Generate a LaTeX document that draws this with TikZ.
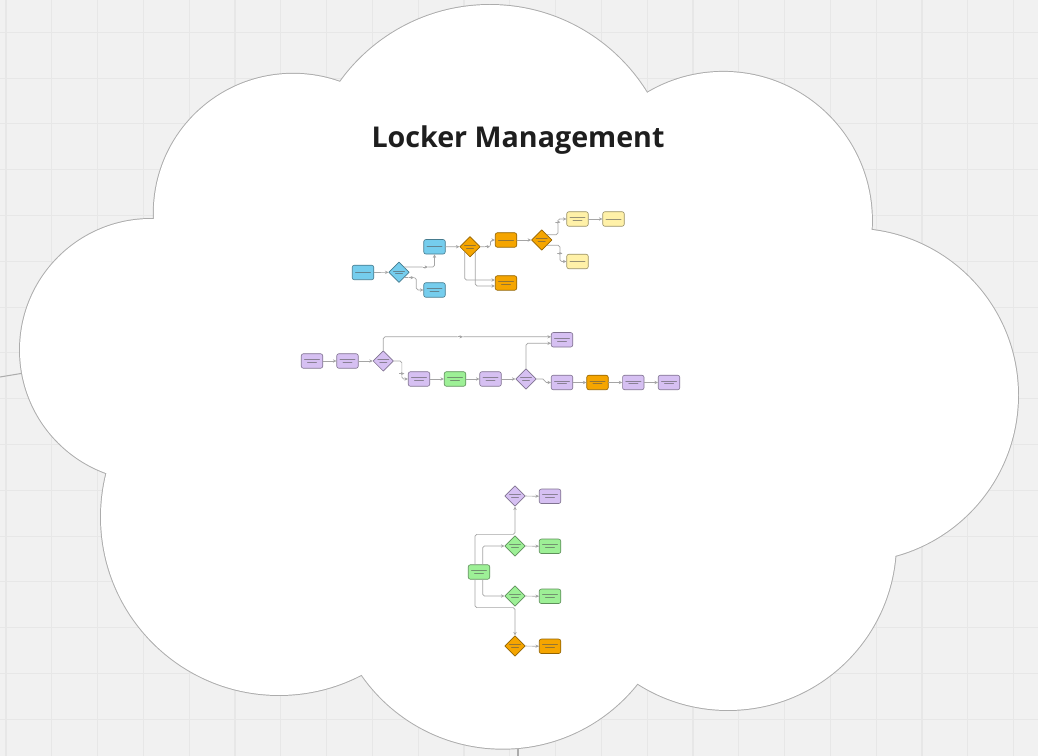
\documentclass[tikz,border=0pt]{standalone}
\usepackage{fontspec}
\newfontfamily\titlefont{Open Sans}
\usetikzlibrary{shapes.geometric,arrows.meta}

\definecolor{bggray}{RGB}{241,241,241}
\definecolor{gridgray}{RGB}{231,231,231}
\definecolor{cloudgray}{RGB}{172,172,172}
\definecolor{linkgray}{RGB}{165,165,165}
\definecolor{titleblack}{RGB}{30,30,30}
\definecolor{lkblue}{RGB}{117,205,237}
\definecolor{lkorange}{RGB}{245,165,0}
\definecolor{lkyellow}{RGB}{255,241,168}
\definecolor{lkpurple}{RGB}{214,192,242}
\definecolor{lkgreen}{RGB}{157,240,150}

\tikzset{
  gridline/.style={draw=gridgray, line width=0.6pt},
  box/.style={rectangle, rounded corners=1.2pt, minimum width=0.43cm, minimum height=0.29cm,
    inner sep=0pt, line width=0.35pt, fill=#1, draw=#1!60!black,
    path picture={\draw[#1!50!black!80, line width=0.55pt]
      ([xshift=-0.15cm,yshift=0.027cm]path picture bounding box.center) -- ++(0.3cm,0)
      ([xshift=-0.09cm,yshift=-0.027cm]path picture bounding box.center) -- ++(0.18cm,0);}},
  boxone/.style={box=#1,
    path picture={\draw[#1!50!black!80, line width=0.55pt]
      ([xshift=-0.15cm]path picture bounding box.center) -- ++(0.3cm,0);}},
  dia/.style={diamond, aspect=1, minimum width=0.41cm, minimum height=0.41cm,
    inner sep=0pt, line width=0.35pt, fill=#1, draw=#1!60!black,
    path picture={\draw[#1!50!black!80, line width=0.5pt]
      ([xshift=-0.11cm,yshift=0.027cm]path picture bounding box.center) -- ++(0.22cm,0)
      ([xshift=-0.07cm,yshift=-0.027cm]path picture bounding box.center) -- ++(0.14cm,0);}},
  lbl/.style={fill=white, inner sep=0pt, minimum width=0.13cm, minimum height=0.06cm,
    path picture={\draw[linkgray, line width=0.4pt]
      ([xshift=-0.05cm]path picture bounding box.center) -- ++(0.1cm,0);}},
  link/.style={draw=linkgray, line width=0.4pt, rounded corners=1pt,
    -{Stealth[length=2pt,width=1.9pt]}},
  title/.style={font=\titlefont\bfseries\fontsize{16.3}{19}\selectfont, text=titleblack,
    anchor=base, inner sep=0pt}
}

\begin{document}
\begin{tikzpicture}[x=0.02cm, y=-0.02cm, line join=round, line cap=round]
\useasboundingbox (0,0) rectangle (1038,756);
% board
\fill[bggray] (0,0) rectangle (1038,756);
\foreach \i in {0,...,22} \draw[gridline] ({6+45.8*\i},0) -- ++(0,756);
\foreach \j in {0,...,15} \draw[gridline] (0,{32.3+45.8*\j}) -- ++(1038,0);
\draw[cloudgray, line width=0.6pt] (0,377) -- (24,373);
\draw[cloudgray, line width=0.6pt] (518,744) -- (518,756);

% cloud: lobes as circles, outline left half visible
\foreach \cx/\cy/\r in {293.1/213.1/139.3, 489.9/189.4/184.4, 723.3/220.5/148.6,
    851.5/395.2/166.5, 728/542/168, 502.8/576.9/171.8, 279/517/178, 151/350/131}
  \draw[cloudgray, line width=1.1pt] (\cx,\cy) circle[radius=\r];
\fill[white] (158,218) -- (340,86) -- (647,98) -- (868,232) -- (886,555)
  -- (637,679) -- (362,670) -- (114,468) -- cycle;
\foreach \cx/\cy/\r in {293.1/213.1/139.3, 489.9/189.4/184.4, 723.3/220.5/148.6,
    851.5/395.2/166.5, 728/542/168, 502.8/576.9/171.8, 279/517/178, 151/350/131}
  \fill[white] (\cx,\cy) circle[radius=\r];

\node[title] (ttl) at (518,148) {Locker Management};

% first flow
\node[boxone=lkblue] (b1) at (363,272.5) {};
\node[dia=lkblue] (d1) at (399,272.3) {};
\node[boxone=lkblue] (b2) at (434.5,246.8) {};
\node[box=lkblue] (b3) at (434.5,290) {};
\node[dia=lkorange] (d2) at (470,246.7) {};
\node[boxone=lkorange] (o1) at (506,240) {};
\node[box=lkorange] (o2) at (506,283) {};
\node[dia=lkorange] (d3) at (541.7,240) {};
\node[box=lkyellow] (y1) at (577.5,219) {};
\node[boxone=lkyellow] (y2) at (613.5,219) {};
\node[boxone=lkyellow] (y3) at (577.5,261.5) {};

\draw[link] (b1) -- (d1);
\draw[link] (d1.north east) -| node[lbl, pos=0.35]{} (b2.south);
\draw[link] (d1.south east) -- ++(12,0) node[lbl, pos=0.6]{} |- (b3.west);
\draw[link] (b2) -- (d2);
\draw[link] (d2.east) -- ++(10,0) node[lbl, pos=0.7]{} |- (o1.west);
\draw[link] (d2.south west) |- ([yshift=1.7pt]o2.west);
\draw[link] (d2.south east) |- ([yshift=-1.7pt]o2.west);
\draw[link] (o1) -- (d3);
\draw[link] (d3.north east) -- ++(11,0) |- node[lbl, pos=0.4]{} (y1.west);
\draw[link] (d3.south east) -- ++(13,0) |- node[lbl, pos=0.25]{} (y3.west);
\draw[link] (y1) -- (y2);

% second flow
\node[box=lkpurple] (p1) at (312,361) {};
\node[box=lkpurple] (p2) at (347.5,361) {};
\node[dia=lkpurple] (d4) at (383.3,361) {};
\node[box=lkpurple] (p3) at (419,379) {};
\node[box=lkgreen] (g1) at (455,379) {};
\node[box=lkpurple] (p4) at (490.5,379) {};
\node[dia=lkpurple] (d5) at (526,379) {};
\node[box=lkpurple] (p5) at (562,339.8) {};
\node[box=lkpurple] (p6) at (562,382.5) {};
\node[box=lkorange] (o3) at (597.5,382.5) {};
\node[box=lkpurple] (p7) at (633.3,382.5) {};
\node[box=lkpurple] (p8) at (669,382.5) {};

\draw[link] (p1) -- (p2);
\draw[link] (p2) -- (d4);
\draw[link] (d4.east) -- ++(8,0) |- node[lbl, pos=0.35]{} (p3.west);
\draw[link] (d4.north) |- node[lbl, pos=0.73]{} ([yshift=1.7pt]p5.west);
\draw[link] (p3) -- (g1);
\draw[link] (g1) -- (p4);
\draw[link] (p4) -- (d5);
\draw[link] (d5.north) |- ([yshift=-2pt]p5.west);
\draw[link] (d5.east) -- ++(8,0) |- (p6.west);
\draw[link] (p6) -- (o3);
\draw[link] (o3) -- (p7);
\draw[link] (p7) -- (p8);

% third flow
\node[dia=lkpurple] (d6) at (515,496) {};
\node[box=lkpurple] (q1) at (550,496.3) {};
\node[dia=lkgreen] (d7) at (515,546) {};
\node[box=lkgreen] (g2) at (550,546.3) {};
\node[box=lkgreen] (s1) at (479,572) {};
\node[dia=lkgreen] (d8) at (515,596) {};
\node[box=lkgreen] (g3) at (550,596.3) {};
\node[dia=lkorange] (d9) at (515,646) {};
\node[box=lkorange] (o4) at (550,646.3) {};

\draw[link] (d6) -- (q1);
\draw[link] (d7) -- (g2);
\draw[link] (d8) -- (g3);
\draw[link] (d9) -- (o4);
\draw[link] ([xshift=2.1pt]s1.north) |- (d7.west);
\draw[link] ([xshift=2.1pt]s1.south) |- (d8.west);
\draw[link] ([xshift=-2.3pt]s1.north) |- ([yshift=0.6pt]d7.north) -- (d6.south);
\draw[link] ([xshift=-2.3pt]s1.south) |- ([yshift=-0.6pt]d8.south) -- (d9.north);
\end{tikzpicture}
\end{document}
